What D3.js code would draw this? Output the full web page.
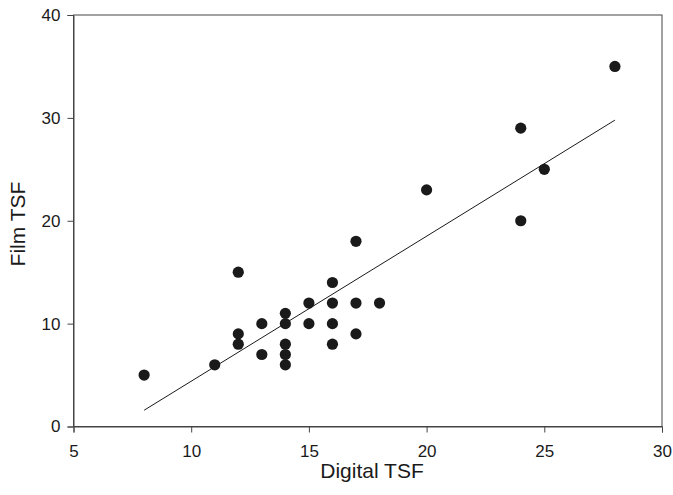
<!DOCTYPE html>
<html>
<head>
<meta charset="utf-8">
<script src="https://cdn.jsdelivr.net/npm/d3@7"></script>
<style>
  html, body { margin: 0; padding: 0; background: #fff; }
  svg { display: block; }
  text { font-family: "Liberation Sans", Arial, sans-serif; fill: #1a1a1a; }
</style>
</head>
<body>
<svg id="chart" width="673" height="495"></svg>
<script>
// Paired TSF measurements: digital vs film
const digitalTSF = [8, 11, 12, 12, 12, 13, 13, 14, 14, 14, 14, 14, 15, 15, 16, 16, 16, 16, 17, 17, 17, 18, 20, 24, 24, 25, 28];
const filmTSF    = [5, 6, 15, 9, 8, 10, 7, 11, 10, 8, 7, 6, 12, 10, 14, 12, 10, 8, 18, 12, 9, 12, 23, 29, 20, 25, 35];

// Least-squares fit line (film = intercept + slope * digital)
const fitIntercept = -9.7;
const fitSlope = 1.41;

const xTicks = [5, 10, 15, 20, 25, 30];
const yTicks = [0, 10, 20, 30, 40];

const svg = d3.select("#chart");
const plot = { left: 73.5, right: 662, top: 15, bottom: 426.5 };

const x = d3.scaleLinear().domain([5, 30]).range([plot.left, plot.right]);
const y = d3.scaleLinear().domain([0, 40]).range([plot.bottom, plot.top]);

// frame
svg.append("rect")
  .attr("x", plot.left).attr("y", plot.top)
  .attr("width", plot.right - plot.left).attr("height", plot.bottom - plot.top)
  .attr("fill", "none").attr("stroke", "#444").attr("stroke-width", 1);

const xAxis = svg.append("g")
  .attr("transform", `translate(0,${plot.bottom})`)
  .call(d3.axisBottom(x).tickValues(xTicks).tickSize(6).tickPadding(12));
const yAxis = svg.append("g")
  .attr("transform", `translate(${plot.left},0)`)
  .call(d3.axisLeft(y).tickValues(yTicks).tickSize(6).tickPadding(7));

[xAxis, yAxis].forEach(g => {
  g.select(".domain").attr("stroke", "#444");
  g.selectAll(".tick line").attr("stroke", "#444");
  g.selectAll(".tick text")
    .attr("font-size", 17)
    .attr("font-family", "Liberation Sans, Arial, sans-serif")
    .attr("fill", "#1a1a1a");
});

// fitted line across the data range
const xr = d3.extent(digitalTSF);
svg.append("line")
  .attr("x1", x(xr[0])).attr("y1", y(fitIntercept + fitSlope * xr[0]))
  .attr("x2", x(xr[1])).attr("y2", y(fitIntercept + fitSlope * xr[1]))
  .attr("stroke", "#1a1a1a").attr("stroke-width", 1);

// points
svg.append("g").selectAll("circle")
  .data(digitalTSF.map((d, i) => [d, filmTSF[i]]))
  .join("circle")
  .attr("cx", d => x(d[0]))
  .attr("cy", d => y(d[1]))
  .attr("r", 5.6)
  .attr("fill", "#1a1a1a");

// axis titles
svg.append("text")
  .attr("x", 372).attr("y", 478)
  .attr("text-anchor", "middle")
  .attr("font-size", 21)
  .text("Digital TSF");

svg.append("text")
  .attr("transform", "translate(25,224) rotate(-90)")
  .attr("text-anchor", "middle")
  .attr("font-size", 21)
  .text("Film TSF");
</script>
</body>
</html>
